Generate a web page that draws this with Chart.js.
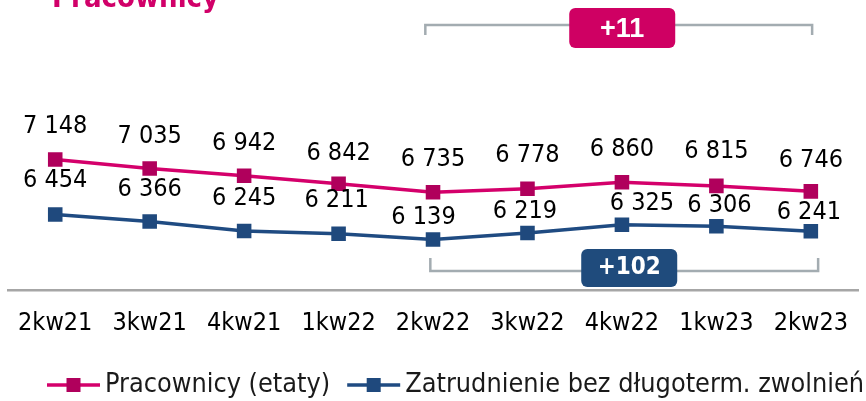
<!DOCTYPE html>
<html><head><meta charset="utf-8">
<script src="https://cdn.jsdelivr.net/npm/chart.js@4/dist/chart.umd.min.js"></script>
<style>html,body{margin:0;padding:0;background:#fff;overflow:hidden}</style>
</head><body>
<canvas id="c" width="866" height="401"></canvas>
<script>
// ---- data ----
const categories = ['2kw21','3kw21','4kw21','1kw22','2kw22','3kw22','4kw22','1kw23','2kw23'];
const pracownicy = [7148, 7035, 6942, 6842, 6735, 6778, 6860, 6815, 6746];
const zatrudnienie = [6454, 6366, 6245, 6211, 6139, 6219, 6325, 6306, 6241];
const seriesNames = ['Pracownicy (etaty)', 'Zatrudnienie bez długoterm. zwolnień'];
const chartTitle = 'Pracownicy';
const compareFrom = 4, compareTo = 8;

// ---- styling ----
const FONT = '"DejaVu Sans Condensed", "DejaVu Sans", sans-serif';
const PINK_LINE = '#d4006b', PINK_MARK = '#b0005c';
const BLUE_LINE = '#1f4b82', BLUE_MARK = '#1f497d';
const labelOffsets = [
  { dx: [0,0,0,0,0,0,0,0,0], dy: [-33.5,-32,-32,-30,-33,-33.5,-33,-34,-30.5] },
  { dx: [0,0,0,-2,-9.5,-2.5,20,3,-2], dy: [-33.5,-32,-33,-33.5,-21.5,-21.5,-21.5,-20.5,-18.5] }
];
const fmt = v => String(v).replace(/\B(?=(\d{3})+(?!\d))/g, ' ');

const titlePlugin = {
  id: 'titleTop',
  afterDraw(chart) {
    const ctx = chart.ctx;
    ctx.save();
    ctx.font = 'bold 29px ' + FONT;
    ctx.fillStyle = '#d10069';
    ctx.textAlign = 'left';
    ctx.textBaseline = 'alphabetic';
    ctx.fillText(chartTitle, 52, 7);
    ctx.restore();
  }
};

const valueLabels = {
  id: 'valueLabels',
  afterDatasetsDraw(chart) {
    const ctx = chart.ctx;
    ctx.save();
    ctx.font = '25px ' + FONT;
    ctx.fillStyle = '#000';
    ctx.textAlign = 'center';
    ctx.textBaseline = 'middle';
    chart.data.datasets.forEach((ds, i) => {
      const meta = chart.getDatasetMeta(i);
      meta.data.forEach((pt, j) => {
        const o = labelOffsets[i];
        ctx.fillText(fmt(ds.data[j]), pt.x + o.dx[j], pt.y + o.dy[j]);
      });
    });
    ctx.restore();
  }
};

const brackets = {
  id: 'brackets',
  afterDraw(chart) {
    const ctx = chart.ctx;
    const xs = chart.scales.x;
    const defs = [
      { ds: 0, y: 25, tick: 10, x1o: -7.7, x2o: 1.3, cxo: 3.5, cy: 28, w: 106, h: 40, ty: 29.5,
        color: '#cf0063', font: 'bold 27px "Liberation Sans", Arial, sans-serif' },
      { ds: 1, y: 271, tick: -13, x1o: -2.7, x2o: 7.3, cxo: 5, cy: 268, w: 96, h: 38, ty: 267.5,
        color: '#1f4b7c', font: 'bold 24px ' + FONT }
    ];
    ctx.save();
    defs.forEach(d => {
      const data = chart.data.datasets[d.ds].data;
      const x1 = xs.getPixelForValue(compareFrom) + d.x1o;
      const x2 = xs.getPixelForValue(compareTo) + d.x2o;
      ctx.strokeStyle = '#a3acb1';
      ctx.lineWidth = 2.5;
      ctx.beginPath();
      ctx.moveTo(x1, d.y + d.tick);
      ctx.lineTo(x1, d.y);
      ctx.lineTo(x2, d.y);
      ctx.lineTo(x2, d.y + d.tick);
      ctx.stroke();
      const cx = (x1 + x2) / 2 + d.cxo;
      ctx.fillStyle = d.color;
      ctx.beginPath();
      ctx.roundRect(cx - d.w / 2, d.cy - d.h / 2, d.w, d.h, 6);
      ctx.fill();
      const diff = data[compareTo] - data[compareFrom];
      ctx.fillStyle = '#fff';
      ctx.font = d.font;
      ctx.textAlign = 'center';
      ctx.textBaseline = 'middle';
      ctx.fillText((diff >= 0 ? '+' : '') + fmt(diff), cx, d.ty);
    });
    ctx.restore();
  }
};

const customLegend = {
  id: 'customLegend',
  afterDraw(chart) {
    const ctx = chart.ctx;
    ctx.save();
    ctx.font = '26.8px ' + FONT;
    ctx.textBaseline = 'middle';
    ctx.textAlign = 'left';
    let x = 47;
    const y = 385;
    chart.data.datasets.forEach(ds => {
      ctx.strokeStyle = ds.borderColor;
      ctx.lineWidth = 3.5;
      ctx.beginPath();
      ctx.moveTo(x, y); ctx.lineTo(x + 53, y); ctx.stroke();
      ctx.fillStyle = ds.pointBackgroundColor;
      ctx.fillRect(x + 26.5 - 7, y - 7, 14, 14);
      ctx.fillStyle = '#1a1a1a';
      ctx.fillText(ds.label, x + 58, y);
      x += 58 + ctx.measureText(ds.label).width + 17;
    });
    ctx.restore();
  }
};

new Chart(document.getElementById('c'), {
  type: 'line',
  data: {
    labels: categories,
    datasets: [
      { label: seriesNames[0], data: pracownicy, borderColor: PINK_LINE, borderWidth: 3.5,
        pointStyle: 'rect', pointRadius: 10.3, pointBackgroundColor: PINK_MARK, pointBorderWidth: 0,
        tension: 0 },
      { label: seriesNames[1], data: zatrudnienie, borderColor: BLUE_LINE, borderWidth: 3.5,
        pointStyle: 'rect', pointRadius: 10.3, pointBackgroundColor: BLUE_MARK, pointBorderWidth: 0,
        tension: 0 }
    ]
  },
  options: {
    responsive: false,
    animation: false,
    layout: { autoPadding: false, padding: { top: 5, left: 8, right: 0, bottom: 45 } },
    plugins: { legend: { display: false }, tooltip: { enabled: false }, title: { display: false } },
    scales: {
      x: {
        offset: true,
        grid: { display: false, drawTicks: false },
        border: { display: true, color: '#a6a6a6', width: 2.5 },
        ticks: { color: '#000', font: { family: FONT, size: 25 }, padding: 18, maxRotation: 0, autoSkip: false }
      },
      y: { display: false, min: 5500, max: 9100 }
    }
  },
  plugins: [titlePlugin, valueLabels, brackets, customLegend]
});
</script>
</body></html>
